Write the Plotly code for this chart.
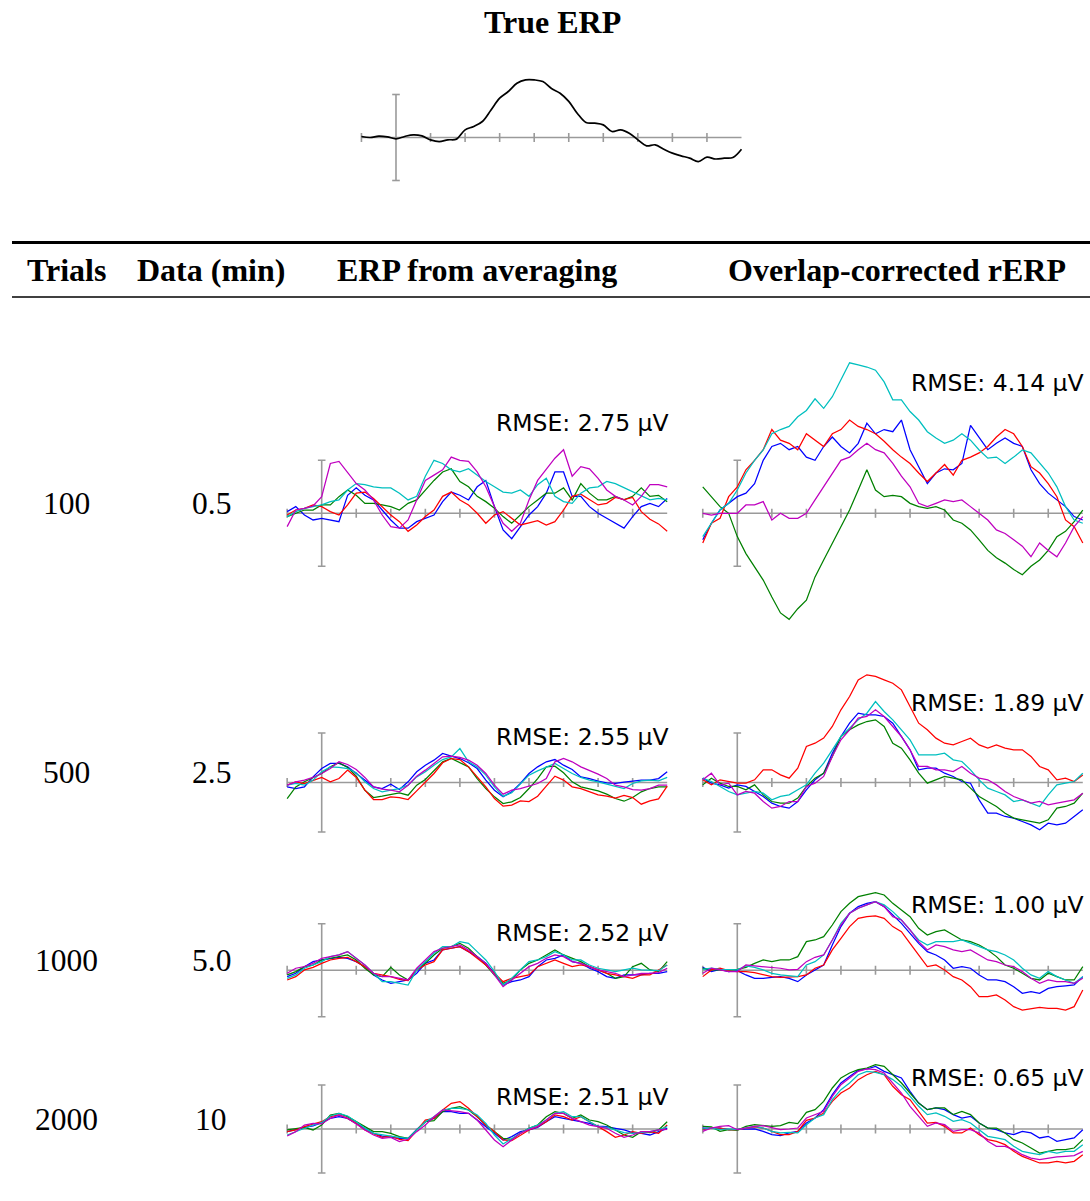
import plotly.graph_objects as go

W, H = 1090, 1201

# Time axis (ms) shared by every waveform
T = list(range(-100, 1001, 25))

COLORS = {"b": "#0000ff", "g": "#008000", "r": "#ff0000", "c": "#00bfbf", "m": "#bf00bf"}
ORDER = ["b", "g", "r", "c", "m"]

# Ground-truth ERP (µV)
TRUE_ERP = [0.12, 0.0, 0.16, 0.08, -0.16, 0.12, 0.31, 0.19, -0.27, -0.47, -0.27, -0.19, 0.89, 1.28, 1.86,
            3.2, 4.57, 5.35, 6.3, 6.7, 6.7, 6.5, 5.7, 5.15, 4.2, 2.8, 1.74, 1.67, 1.47, 0.7, 0.89, 0.5,
            -0.27, -0.97, -0.85, -1.36, -1.82, -2.13, -2.4, -2.8, -2.29, -2.5, -2.4, -2.33, -1.36]

# Five simulated datasets per condition (µV)
AVG_100 = {
    "b": [0.16, 0.63, -0.16, -0.63, -0.47, -0.63, -0.79, 1.7, 2.4, 1.7, 1.26, 0.31, -0.63, -1.4, -1.4, -0.79, -0.47, -0.16, 1.1, 2.0, 1.7, 1.26, 2.5, 3.1, 0.63, -1.57, -2.4, -1.26, -0.16, 0.63, 1.9, 3.9, 3.9, 1.6, 1.6, 0.63, 0.0, -0.47, -0.94, -1.4, -0.31, 0.63, 0.94, 0.63, 1.4],
    "g": [-0.31, 0.0, 0.31, 0.31, 0.79, 0.79, 1.57, 2.2, 1.7, 0.94, 0.94, 0.79, 0.63, 0.31, 0.94, 1.26, 2.2, 3.1, 3.9, 4.2, 3.0, 2.5, 1.6, 1.1, 0.47, -0.31, -0.94, -0.16, 0.63, 1.26, 1.9, 1.9, 2.4, 1.26, 2.8, 1.9, 1.26, 1.26, 1.6, 1.26, 1.6, 2.4, 1.6, 1.7, 1.1],
    "r": [-0.16, 0.31, 0.47, 0.79, 0.63, 0.16, -0.16, 0.79, 1.9, 2.0, 1.4, 0.63, -0.16, -0.79, -1.7, -1.1, -0.31, 0.31, 1.6, 2.0, 1.26, 0.79, 0.0, -0.94, -0.16, 0.16, -0.47, -1.1, -0.9, -0.7, -1.1, -0.79, 0.31, 1.6, 1.8, 1.26, 0.79, 0.94, 1.5, 1.3, 1.5, 0.16, -0.57, -1.0, -1.7],
    "c": [-0.31, 0.16, 0.47, 0.63, 0.79, 1.1, 1.26, 2.2, 2.8, 2.7, 2.5, 2.4, 2.4, 1.9, 1.26, 1.6, 3.5, 5.0, 4.7, 4.1, 3.9, 4.2, 3.6, 3.0, 2.5, 2.0, 1.9, 2.2, 1.6, 2.7, 3.3, 1.6, 1.1, 0.94, 1.9, 2.4, 2.5, 3.0, 2.8, 2.4, 2.0, 1.6, 1.26, 1.4, 1.26],
    "m": [-1.26, 0.31, 0.47, 0.69, 1.57, 4.7, 4.9, 3.8, 2.8, 2.2, 1.26, -0.16, -1.26, -1.4, -0.63, 1.26, 3.1, 3.6, 4.1, 5.3, 5.0, 4.9, 3.9, 2.5, 0.63, -0.94, -1.7, -0.94, 1.26, 3.1, 4.2, 5.2, 6.0, 3.5, 4.4, 4.2, 3.3, 2.2, 1.6, 1.26, 0.79, 1.6, 2.7, 2.7, 2.5],
}
RERP_100 = {
    "b": [-2.5, -0.94, 0.31, 0.94, 1.57, 1.9, 2.8, 5.0, 6.3, 6.6, 6.0, 6.3, 5.3, 5.0, 6.3, 7.2, 6.3, 5.7, 6.6, 8.5, 7.5, 7.9, 7.7, 8.8, 6.0, 4.4, 2.8, 3.8, 4.2, 4.1, 4.7, 8.3, 7.2, 6.0, 6.6, 7.1, 6.6, 6.3, 4.1, 2.8, 1.9, 1.26, 0.63, -0.31, -0.63],
    "g": [2.5, 1.57, 0.63, 0.0, -2.2, -3.8, -5.0, -6.3, -7.9, -9.4, -10.0, -9.0, -8.2, -6.0, -4.4, -2.8, -1.26, 0.31, 2.2, 4.1, 2.2, 1.57, 1.7, 1.57, 0.94, 0.63, 0.47, 0.63, 0.31, -0.63, -0.94, -1.57, -2.5, -3.5, -4.2, -4.7, -5.3, -5.8, -5.0, -4.4, -3.5, -2.2, -1.7, -0.79, 0.31],
    "r": [-2.8, -0.94, -0.47, 1.57, 2.5, 4.1, 5.0, 6.0, 7.9, 6.9, 6.6, 6.0, 7.5, 6.9, 6.3, 7.5, 7.9, 8.8, 8.2, 7.9, 7.5, 6.8, 6.0, 5.3, 4.7, 3.8, 3.0, 3.8, 4.6, 3.6, 5.0, 5.3, 5.7, 6.3, 7.2, 7.9, 7.5, 6.3, 4.4, 3.8, 2.8, 1.57, -0.63, -1.26, -2.8],
    "c": [-2.2, -0.94, 0.31, 0.94, 2.2, 3.8, 5.0, 5.97, 7.5, 7.9, 8.2, 9.1, 9.7, 10.8, 9.9, 11.0, 12.6, 14.2, 14.0, 13.8, 13.5, 12.4, 10.7, 10.7, 9.6, 8.8, 7.7, 7.1, 6.6, 6.9, 7.5, 6.9, 5.97, 5.2, 5.3, 4.7, 5.3, 5.97, 5.7, 4.7, 3.8, 2.5, 0.63, -0.63, -0.94],
    "m": [0.0, -0.16, 0.0, 0.0, 0.0, 0.79, 0.79, 1.1, -0.63, 0.0, -0.47, -0.47, 0.0, 1.26, 2.5, 3.8, 5.0, 5.3, 6.0, 6.6, 6.0, 5.7, 4.7, 3.5, 2.5, 0.94, 0.63, 0.94, 1.26, 1.1, 1.26, 0.63, 0.0, -0.63, -1.57, -1.9, -2.5, -3.1, -4.1, -2.8, -3.5, -4.1, -2.8, -1.26, -0.31],
}
AVG_500 = {
    "b": [-0.44, -0.61, -0.44, 0.57, 1.41, 1.92, 1.92, 1.58, 0.91, 0.24, -0.44, -0.61, -0.17, -0.71, 0.07, 1.08, 1.75, 2.26, 2.93, 2.66, 2.42, 1.99, 1.41, 0.24, -0.78, -1.45, -0.94, -0.1, 0.91, 1.58, 2.09, 2.32, 1.75, 1.31, 0.57, 0.4, 0.13, -0.03, -0.1, 0.03, 0.13, 0.24, 0.24, 0.4, 1.08],
    "g": [-1.62, -0.44, 0.07, 0.51, 0.91, 1.58, 1.99, 1.52, 0.64, -0.78, -1.52, -1.38, -1.18, -1.04, -1.28, -0.27, 0.3, 1.18, 2.09, 2.42, 1.99, 1.58, 0.4, -0.61, -1.45, -2.12, -1.95, -1.52, -0.61, 0.4, 1.58, 1.65, 0.98, 0.07, -0.44, -0.61, -0.84, -1.18, -1.62, -1.89, -1.52, -0.94, -0.61, -0.44, -0.44],
    "r": [-0.27, 0.07, -0.1, 0.24, 0.51, 0.07, 0.4, 1.25, 0.51, -0.78, -1.72, -1.72, -1.45, -1.52, -1.72, -0.84, 0.07, 0.91, 1.99, 2.42, 2.32, 1.58, 0.57, -0.44, -1.62, -2.39, -2.29, -1.85, -1.92, -1.38, -0.37, 0.64, 0.24, -0.44, -0.61, -0.94, -1.25, -1.38, -1.58, -1.31, -1.52, -2.19, -1.85, -1.65, -0.37],
    "c": [-0.27, -0.1, -0.27, 0.24, 1.08, 1.58, 1.52, 1.41, 0.98, 0.07, -0.61, -0.94, -0.78, -0.61, -0.27, 0.57, 1.08, 1.75, 2.32, 2.59, 3.43, 2.09, 1.58, 0.74, -0.44, -1.38, -1.04, -0.1, 0.74, 1.18, 1.58, 1.92, 1.41, 0.91, 0.51, 0.24, 0.07, -0.17, -0.44, -0.61, -0.1, 0.17, 0.24, 0.17, 0.51],
    "m": [-0.27, 0.07, 0.24, 0.51, 0.91, 1.41, 2.09, 1.82, 1.31, 0.51, -0.44, -0.67, -0.78, -0.94, -0.27, 0.64, 1.25, 1.92, 2.59, 2.66, 2.53, 2.26, 1.75, 0.91, -0.27, -1.18, -0.78, -0.61, -0.37, -0.1, 0.4, 2.09, 2.42, 2.09, 1.58, 1.25, 0.84, 0.4, -0.27, -0.44, -0.71, -0.78, -0.61, -0.27, -0.27],
}
RERP_500 = {
    "b": [0.44, -0.07, -0.24, -0.57, -0.24, -0.4, -0.91, -1.41, -2.09, -2.42, -2.59, -1.92, -0.74, 0.27, 0.94, 2.96, 4.65, 5.99, 7.0, 6.84, 6.84, 6.67, 5.99, 4.65, 3.3, 1.28, 1.45, 1.45, 0.94, 0.61, 0.1, -0.07, -1.75, -3.1, -3.1, -3.43, -3.6, -3.94, -4.28, -4.78, -4.11, -4.28, -4.11, -3.43, -2.76],
    "g": [-0.24, 0.44, -0.07, -0.4, -0.4, -0.74, -0.24, -1.25, -1.92, -2.09, -2.09, -1.58, -0.4, 0.44, 0.94, 2.63, 4.65, 5.32, 5.82, 6.16, 6.33, 5.66, 3.97, 3.47, 2.29, 0.94, -0.07, 0.27, 0.61, 0.44, 0.27, -0.57, -1.41, -1.92, -2.42, -3.1, -3.6, -3.77, -3.94, -4.11, -3.77, -2.59, -2.42, -2.09, -1.08],
    "r": [0.27, -0.24, 0.27, 0.1, -0.07, -0.07, 0.27, 1.28, 1.28, 0.77, 0.44, 1.45, 3.64, 3.97, 4.48, 5.66, 7.34, 8.69, 10.37, 10.88, 10.71, 10.37, 10.03, 9.36, 7.68, 5.99, 5.32, 4.48, 3.97, 3.8, 4.14, 4.48, 3.8, 3.47, 3.8, 3.47, 3.3, 3.3, 2.63, 1.62, 1.28, 0.27, 0.44, 0.1, 0.77],
    "c": [0.44, 0.1, -0.4, -0.91, -1.25, -1.08, -0.91, -1.08, -1.75, -1.41, -1.25, -0.74, -0.24, 0.94, 1.95, 3.3, 4.65, 5.49, 6.33, 7.0, 8.18, 7.17, 6.33, 5.32, 4.31, 2.79, 2.79, 2.79, 2.96, 2.29, 2.12, 1.28, 0.27, -0.57, -0.91, -1.25, -1.92, -1.75, -2.09, -2.42, -1.25, -0.24, -0.07, 0.1, 0.94],
    "m": [0.27, 0.94, -0.24, -0.07, -1.25, -0.91, -1.08, -1.92, -2.59, -2.42, -1.92, -1.92, -0.4, -0.07, 0.61, 2.63, 4.31, 5.32, 6.5, 6.67, 7.34, 6.67, 5.66, 4.65, 3.3, 1.62, 1.62, 1.28, 1.28, 1.11, 1.62, 0.94, 0.44, 0.27, -0.24, -0.91, -1.41, -1.75, -2.09, -1.92, -2.26, -2.09, -1.92, -1.75, -1.08],
}
AVG_1000 = {
    "b": [-0.68, -0.32, 0.39, 0.93, 1.11, 1.29, 1.4, 1.29, 0.93, 0.39, -0.5, -1.04, -1.4, -1.22, -1.04, -0.32, 0.75, 1.11, 2.19, 2.37, 2.54, 2.01, 1.47, 0.75, -0.32, -1.58, -1.22, -1.04, -0.68, 0.39, 1.11, 1.29, 1.65, 0.93, 0.75, 0.22, -0.14, -0.68, -0.86, -0.5, -0.5, -0.5, -0.32, -0.32, -0.14],
    "g": [-0.5, -0.14, 0.39, 0.57, 1.11, 1.29, 1.54, 1.65, 1.11, 0.22, -0.5, -0.68, 0.32, -0.5, -1.04, 0.04, 0.75, 1.65, 2.37, 2.54, 2.9, 2.37, 1.47, 0.57, -0.5, -1.4, -1.04, 0.04, 0.75, 1.11, 1.65, 2.19, 1.65, 1.29, 0.93, 0.39, 0.04, -0.32, -0.86, -0.68, 0.39, 0.75, 0.04, -0.14, 0.93],
    "r": [-1.04, -0.68, 0.04, 0.32, 0.75, 1.11, 1.29, 1.4, 0.93, 0.39, -0.32, -0.5, -0.68, -0.97, -1.11, 0.04, 0.57, 0.93, 2.19, 2.37, 2.54, 2.01, 1.29, 0.57, -0.32, -1.22, -0.86, -0.68, -0.5, 0.39, 0.75, 1.11, 0.75, 0.39, 0.57, 0.39, 0.04, -0.32, -0.5, -0.68, -0.86, -0.5, -0.5, 0.04, 0.57],
    "c": [-0.86, -0.5, 0.22, 0.57, 0.93, 1.47, 1.65, 2.01, 1.29, 0.57, -0.32, -1.22, -1.22, -1.4, -1.58, 0.04, 0.93, 1.83, 2.54, 2.54, 3.08, 2.9, 2.01, 1.11, -0.14, -1.58, -0.86, 0.04, 0.93, 1.11, 1.47, 2.01, 1.65, 1.11, 1.11, 0.57, 0.22, 0.04, -0.14, 0.04, 0.22, 0.04, 0.04, -0.04, 0.57],
    "m": [-0.32, 0.22, 0.39, 0.75, 1.29, 1.47, 1.65, 2.01, 1.29, 0.57, -0.32, -0.68, -0.68, -0.86, -1.04, 0.22, 1.11, 2.01, 2.37, 2.54, 2.72, 2.19, 1.47, 0.75, -0.5, -1.76, -1.04, -0.32, 0.39, 0.75, 1.29, 1.65, 1.47, 0.93, 0.75, 0.39, 0.04, -0.14, -0.32, -0.68, -0.5, -0.32, -0.32, -0.25, 0.22],
}
RERP_1000 = {
    "b": [0.32, -0.14, 0.11, -0.14, -0.04, -0.5, -0.86, -0.86, -0.75, -0.68, -0.86, -1.22, -0.5, 0.04, 0.57, 2.72, 4.7, 6.13, 6.85, 7.2, 7.38, 6.85, 5.95, 5.05, 3.98, 2.9, 2.01, 1.65, 1.11, 0.22, 0.39, 0.22, -0.5, -1.04, -1.04, -1.22, -1.76, -2.47, -2.29, -2.47, -1.94, -1.76, -1.68, -1.58, -0.68],
    "g": [0.22, 0.04, 0.04, -0.04, 0.11, 0.32, 0.75, 1.11, 0.93, 1.11, 1.11, 1.47, 3.08, 3.26, 3.62, 4.87, 6.31, 7.2, 7.92, 8.1, 8.35, 8.1, 7.2, 6.49, 5.77, 4.52, 3.8, 4.16, 4.34, 3.8, 3.26, 3.08, 2.72, 2.19, 1.47, 0.57, 0.22, -0.32, -0.86, -1.04, -0.32, -0.68, -1.04, -1.04, 0.39],
    "r": [-0.68, 0.04, 0.22, -0.04, -0.14, -0.14, -0.25, -0.5, -0.68, -0.75, -0.68, -0.68, -0.5, 0.22, 0.57, 2.19, 3.44, 4.7, 5.59, 5.77, 5.84, 5.59, 4.7, 4.16, 2.9, 1.65, 0.39, 0.57, 0.04, -0.68, -1.04, -1.76, -2.83, -2.83, -2.65, -3.19, -3.91, -4.27, -4.09, -3.98, -4.09, -4.09, -4.27, -3.91, -2.11],
    "c": [0.11, 0.22, 0.11, 0.04, 0.04, 0.47, 0.32, 0.04, -0.32, -0.5, -0.61, -0.68, 0.57, 0.93, 1.65, 3.26, 5.05, 6.13, 6.67, 7.03, 7.38, 7.03, 6.31, 5.41, 4.34, 3.26, 2.72, 3.08, 3.08, 3.08, 3.26, 2.9, 2.54, 2.19, 2.01, 1.65, 1.11, 0.22, -0.5, -0.86, -0.14, -0.68, -1.04, -1.4, -0.68],
    "m": [-0.32, 0.22, 0.04, -0.14, -0.14, 0.57, 0.47, 0.39, 0.32, 0.22, 0.04, 0.11, 0.93, 1.4, 1.65, 3.26, 4.87, 6.13, 6.67, 7.03, 7.38, 6.85, 5.77, 5.41, 4.34, 3.08, 2.19, 2.72, 2.54, 2.19, 2.01, 2.19, 1.65, 1.11, 0.93, 0.57, 0.39, -0.14, -0.86, -1.4, -1.04, -1.22, -1.22, -1.4, -0.86],
}
AVG_2000 = {
    "b": [-0.3, -0.04, 0.19, 0.34, 0.72, 1.21, 1.4, 1.21, 0.64, 0.08, -0.49, -0.8, -0.95, -1.06, -1.06, -0.04, 0.83, 1.21, 1.97, 1.97, 1.78, 1.78, 1.02, 0.27, -0.49, -1.25, -0.87, -0.3, -0.11, 0.19, 0.83, 1.4, 1.21, 1.02, 0.83, 0.64, 0.34, 0.27, 0.08, -0.11, -0.42, -0.49, -0.68, -0.3, 0.08],
    "g": [-0.11, 0.08, 0.19, -0.11, 0.45, 1.59, 1.78, 1.4, 0.83, 0.27, -0.3, -0.3, -0.49, -0.87, -1.06, -0.11, 0.83, 0.95, 1.97, 2.35, 2.54, 2.16, 1.4, 0.45, -0.3, -1.06, -1.17, -0.49, 0.08, 0.45, 1.4, 1.97, 1.78, 1.21, 1.59, 1.02, 0.83, 0.45, -0.11, -0.68, -0.95, -0.3, -0.42, -0.11, 0.83],
    "r": [-0.3, -0.11, 0.27, 0.57, 0.83, 1.4, 1.59, 1.21, 0.64, -0.11, -0.49, -0.95, -0.8, -1.17, -1.33, -0.11, 1.02, 1.21, 2.16, 2.92, 3.11, 2.35, 1.4, 0.45, -0.3, -1.25, -1.33, -0.68, -0.11, 0.27, 0.83, 1.59, 1.4, 1.02, 1.4, 0.83, 0.27, -0.3, -0.95, -0.68, -0.3, -0.49, -0.3, -0.49, 0.45],
    "c": [-0.68, -0.3, 0.08, 0.45, 0.72, 1.48, 1.78, 1.48, 0.83, 0.08, -0.49, -0.68, -0.8, -0.95, -1.06, -0.11, 0.83, 1.4, 2.16, 2.35, 2.35, 2.16, 1.59, 0.64, -0.68, -1.7, -1.06, -0.49, 0.08, 0.45, 1.02, 1.78, 1.97, 1.4, 1.4, 0.83, 0.27, 0.19, -0.11, -0.42, -0.49, -0.42, -0.3, -0.11, 0.27],
    "m": [-0.8, -0.3, 0.45, 0.64, 0.57, 1.21, 1.59, 1.21, 0.57, -0.11, -0.68, -1.06, -0.95, -1.44, -1.17, -0.3, 0.45, 1.4, 2.16, 2.08, 1.97, 1.78, 1.02, -0.11, -1.25, -2.01, -1.25, -0.49, -0.04, 0.27, 1.02, 1.78, 1.78, 1.21, 0.83, 0.45, 0.27, 0.08, -0.49, -0.95, -0.68, -0.3, -0.3, -0.11, -0.04],
}
RERP_2000 = {
    "b": [0.11, 0.11, 0.11, -0.08, -0.08, -0.08, 0.0, -0.27, -0.64, -0.76, -0.45, -0.27, 0.68, 1.25, 2.2, 3.9, 5.23, 5.98, 6.67, 6.82, 7.12, 6.55, 6.17, 5.8, 4.28, 2.95, 2.2, 2.39, 2.2, 1.63, 1.25, 1.44, 0.68, 0.11, -0.08, -0.45, -0.64, -0.27, -0.45, -1.02, -0.83, -1.4, -1.21, -1.02, -0.08],
    "g": [0.3, 0.23, -0.27, -0.08, -0.15, 0.3, 0.49, 0.38, 0.3, 0.38, 0.76, 0.61, 1.89, 2.2, 3.14, 4.66, 5.8, 6.36, 6.74, 6.93, 7.31, 7.12, 6.17, 5.23, 4.09, 2.95, 2.2, 2.39, 2.39, 1.63, 2.01, 1.63, 0.68, 0.11, 0.11, -0.45, -1.21, -1.59, -2.16, -2.73, -2.54, -2.35, -2.35, -2.16, -1.21],
    "r": [-0.08, 0.11, 0.11, -0.08, -0.08, 0.11, 0.23, 0.11, -0.27, -0.64, -0.64, -0.27, 0.98, 1.25, 1.82, 3.14, 4.09, 4.66, 5.61, 6.17, 6.55, 6.17, 4.85, 3.9, 3.33, 2.01, 0.68, 0.76, 0.3, -0.45, -0.45, 0.11, -0.64, -1.21, -1.4, -1.78, -2.54, -3.11, -3.48, -3.86, -3.86, -3.67, -3.86, -3.67, -2.92],
    "c": [0.0, 0.11, -0.08, 0.0, -0.08, 0.11, 0.3, 0.11, -0.27, -0.45, -0.38, -0.45, 0.49, 1.25, 1.63, 3.33, 4.47, 5.23, 6.17, 6.55, 6.44, 6.17, 5.61, 4.85, 3.71, 2.58, 1.63, 1.82, 1.44, 0.87, 1.06, 0.68, -0.08, -0.83, -1.02, -1.21, -1.97, -2.54, -2.73, -2.92, -2.54, -2.73, -2.54, -2.54, -1.78],
    "m": [-0.27, 0.11, 0.3, 0.38, -0.08, 0.11, 0.3, 0.38, 0.11, -0.08, 0.0, 0.11, 1.25, 1.63, 2.01, 3.71, 5.04, 5.8, 6.55, 6.82, 6.74, 6.36, 5.23, 4.09, 2.58, 1.44, 0.3, 0.68, 0.49, -0.27, -0.08, -0.08, -0.45, -1.4, -1.97, -1.97, -2.35, -2.92, -3.3, -3.48, -3.3, -3.18, -3.11, -3.03, -2.54],
}

TRIALS = ["100", "500", "1000", "2000"]
MINUTES = ["0.5", "2.5", "5.0", "10"]
RMSE_AVG = [2.75, 2.55, 2.52, 2.51]
RMSE_RERP = [4.14, 1.89, 1.00, 0.65]
AVG_SETS = [AVG_100, AVG_500, AVG_1000, AVG_2000]
RERP_SETS = [RERP_100, RERP_500, RERP_1000, RERP_2000]

# ---- layout geometry (pixels) ----
PX_PER_MS = 0.3455
BAR_UV = 5.0          # half-height of the vertical scale bar
X_LO, X_HI = -110, 1010
AXIS_GRAY = "#9a9a9a"

# (pixel row of y=0, pixels per µV, top px, bottom px)
ROWS = [
    (513.3, 10.6, 330, 660),
    (782.5, 9.9, 650, 870),
    (970.3, 9.3, 860, 1050),
    (1129.0, 8.8, 1040, 1200),
]
T0_AVG, T0_RERP, T0_TRUE = 321.7, 737.3, 396.0
LABEL_DY = -10
RMSE_Y_AVG = [423, 737, 933, 1097]
RMSE_Y_RERP = [383, 703, 905, 1078]

fig = go.Figure()
layout_axes = {}
shapes = []
annotations = []
panel_count = [0]


def py(px):
    return 1 - px / H


def add_panel(t0_px, zero_px, scale, top_px, bot_px, series):
    panel_count[0] += 1
    n = panel_count[0]
    sfx = "" if n == 1 else str(n)
    xr, yr = "x" + sfx, "y" + sfx
    x_dom = [(t0_px + X_LO * PX_PER_MS) / W, (t0_px + X_HI * PX_PER_MS) / W]
    y_rng = [(zero_px - bot_px) / scale, (zero_px - top_px) / scale]
    layout_axes["xaxis" + sfx] = dict(domain=x_dom, range=[X_LO, X_HI], visible=False,
                                      anchor=yr, fixedrange=True)
    layout_axes["yaxis" + sfx] = dict(domain=[py(bot_px), py(top_px)], range=y_rng,
                                      visible=False, anchor=xr, fixedrange=True)
    line = dict(color=AXIS_GRAY, width=1.6)
    # baseline
    shapes.append(dict(type="line", xref=xr, yref=yr, x0=T[0], x1=T[-1], y0=0, y1=0,
                       line=line, layer="below"))
    # crossing ticks every 100 ms
    tick_h = 4.5 / scale
    for tk in range(-100, 1000, 100):
        if tk == 0:
            continue
        shapes.append(dict(type="line", xref=xr, yref=yr, x0=tk, x1=tk, y0=-tick_h, y1=tick_h,
                           line=line, layer="below"))
    # scale bar at stimulus onset with caps
    shapes.append(dict(type="line", xref=xr, yref=yr, x0=0, x1=0, y0=-BAR_UV, y1=BAR_UV,
                       line=line, layer="below"))
    cap = 3.8 / PX_PER_MS
    for yb in (-BAR_UV, BAR_UV):
        shapes.append(dict(type="line", xref=xr, yref=yr, x0=-cap, x1=cap, y0=yb, y1=yb,
                           line=line, layer="below"))
    for name, vals, color, width, shape in series:
        fig.add_trace(go.Scatter(x=T, y=vals, mode="lines", name=name, xaxis=xr, yaxis=yr,
                                 line=dict(color=color, width=width, shape=shape),
                                 hoverinfo="skip"))


# True ERP panel
add_panel(T0_TRUE, 137.5, 8.6, 40, 230,
          [("True ERP", TRUE_ERP, "#000000", 1.7, "spline")])

for i, (zero_px, scale, top_px, bot_px) in enumerate(ROWS):
    add_panel(T0_AVG, zero_px, scale, top_px, bot_px,
              [(k, AVG_SETS[i][k], COLORS[k], 1.25, "linear") for k in ORDER])
    add_panel(T0_RERP, zero_px, scale, top_px, bot_px,
              [(k, RERP_SETS[i][k], COLORS[k], 1.25, "linear") for k in ORDER])

SERIF = "Liberation Serif"
SANS = "DejaVu Sans"


def text(x_px, y_px, s, size, family, bold=False, xanchor="center"):
    annotations.append(dict(x=x_px / W, y=py(y_px), xref="paper", yref="paper",
                            text=f"<b>{s}</b>" if bold else s, showarrow=False,
                            xanchor=xanchor, yanchor="middle",
                            font=dict(family=family, size=size, color="#000000")))


HEAD = 32
text(552, 22, "True ERP", HEAD, SERIF, bold=True)
text(66, 270, "Trials", HEAD, SERIF, bold=True)
text(211, 270, "Data (min)", HEAD, SERIF, bold=True)
text(477, 270, "ERP from averaging", HEAD, SERIF, bold=True)
text(897, 270, "Overlap-corrected rERP", HEAD, SERIF, bold=True)

for i, (zero_px, _, _, _) in enumerate(ROWS):
    text(66, zero_px + LABEL_DY, TRIALS[i], 31.5, SERIF)
    text(211, zero_px + LABEL_DY, MINUTES[i], 31.5, SERIF)
    text(T0_AVG + 1000 * PX_PER_MS + 3.5, RMSE_Y_AVG[i], f"RMSE: {RMSE_AVG[i]:.2f} µV", 23.5, SANS,
         xanchor="right")
    text(T0_RERP + 1000 * PX_PER_MS + 3, RMSE_Y_RERP[i], f"RMSE: {RMSE_RERP[i]:.2f} µV", 23.5, SANS,
         xanchor="right")

# table rules
shapes.append(dict(type="line", xref="paper", yref="paper", x0=12 / W, x1=1.0,
                   y0=py(242.5), y1=py(242.5), line=dict(color="#000000", width=2.8)))
shapes.append(dict(type="line", xref="paper", yref="paper", x0=12 / W, x1=1.0,
                   y0=py(297), y1=py(297), line=dict(color="#000000", width=1.6)))

fig.update_layout(width=W, height=H, margin=dict(l=0, r=0, t=0, b=0),
                  paper_bgcolor="#ffffff", plot_bgcolor="rgba(0,0,0,0)",
                  showlegend=False, shapes=shapes, annotations=annotations, **layout_axes)

fig.write_html("out.html")
